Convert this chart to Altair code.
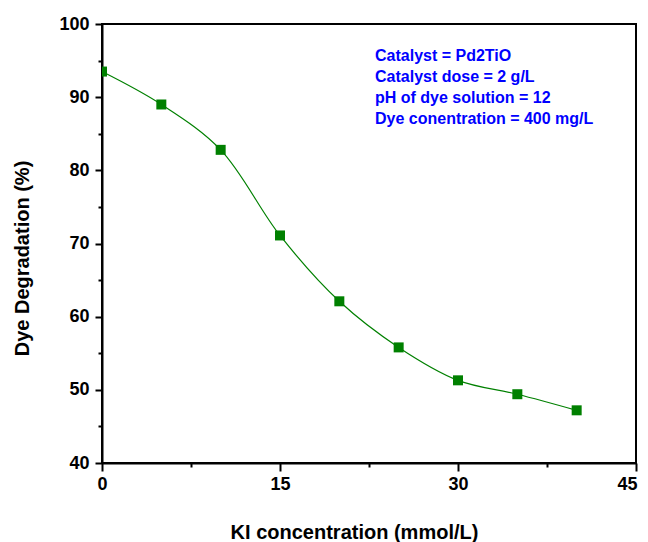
import altair as alt
import pandas as pd

ki = [0, 5, 10, 15, 20, 25, 30, 35, 40]
degradation = [93.5, 89.0, 82.8, 71.1, 62.1, 55.8, 51.3, 49.4, 47.2]
x_ticks = [0, 7.5, 15, 22.5, 30, 37.5, 45]
y_ticks = [40, 45, 50, 55, 60, 65, 70, 75, 80, 85, 90, 95, 100]
annotation_lines = [
    "Catalyst = Pd2TiO",
    "Catalyst dose = 2 g/L",
    "pH of dye solution = 12",
    "Dye conentration = 400 mg/L",
]

df = pd.DataFrame({"ki": ki, "deg": degradation})

FONT = "Liberation Sans"
GREEN = "#008000"

x_enc = alt.X(
    "ki:Q",
    scale=alt.Scale(domain=[0, 45], nice=False, zero=False),
    axis=alt.Axis(
        values=x_ticks,
        labelExpr="datum.value % 15 === 0 ? datum.label : ''",
        tickSize={"condition": {"test": "datum.value % 15 === 0", "value": 8}, "value": 4},
        labelOffset={"condition": {"test": "datum.value === 45", "value": -9}, "value": 0},
        labelFlush=False,
        labelPadding=4,
        title="KI concentration (mmol/L)",
        titleX=252,
        titleY=75,
        titleAlign="center",
        titleBaseline="alphabetic",
    ),
)
y_enc = alt.Y(
    "deg:Q",
    scale=alt.Scale(domain=[40, 100], nice=False, zero=False),
    axis=alt.Axis(
        values=y_ticks,
        labelExpr="datum.value % 10 === 0 ? datum.label : ''",
        tickSize={"condition": {"test": "datum.value % 10 === 0", "value": 7}, "value": 4},
        labelFlush=False,
        labelPadding=6,
        title="Dye Degradation (%)",
        titleX=-80,
        titleY=234,
        titleAngle=-90,
        titleAlign="center",
        titleBaseline="middle",
    ),
)

base = alt.Chart(df)
line = base.mark_line(color=GREEN, strokeWidth=1.2, interpolate="catmull-rom").encode(x=x_enc, y=y_enc)
points = base.mark_point(shape="square", filled=True, color=GREEN, size=100, opacity=1, clip=True).encode(x=x_enc, y=y_enc)

ann = alt.Chart(pd.DataFrame({"k": [0]})).mark_text(
    text=annotation_lines,
    align="left",
    baseline="alphabetic",
    lineHeight=21,
    font=FONT,
    fontSize=16,
    fontWeight="bold",
    color="#0000ff",
).encode(x=alt.value(273), y=alt.value(37))

chart = (
    alt.layer(line, points, ann)
    .properties(
        width=534,
        height=439,
        autosize=alt.AutoSizeParams(type="none"),
        padding={"left": 94, "top": 16, "right": 4, "bottom": 79},
    )
    .configure_view(stroke="black", strokeWidth=2)
    .configure_axis(
        grid=False,
        domainColor="black",
        domainWidth=2,
        tickColor="black",
        tickWidth=2,
        labelFont=FONT,
        labelFontSize=18,
        labelFontWeight="bold",
        labelColor="black",
        titleFont=FONT,
        titleFontSize=20,
        titleFontWeight="bold",
        titleColor="black",
    )
)

chart.save("out.html", embed_options={"renderer": "svg", "actions": False})
